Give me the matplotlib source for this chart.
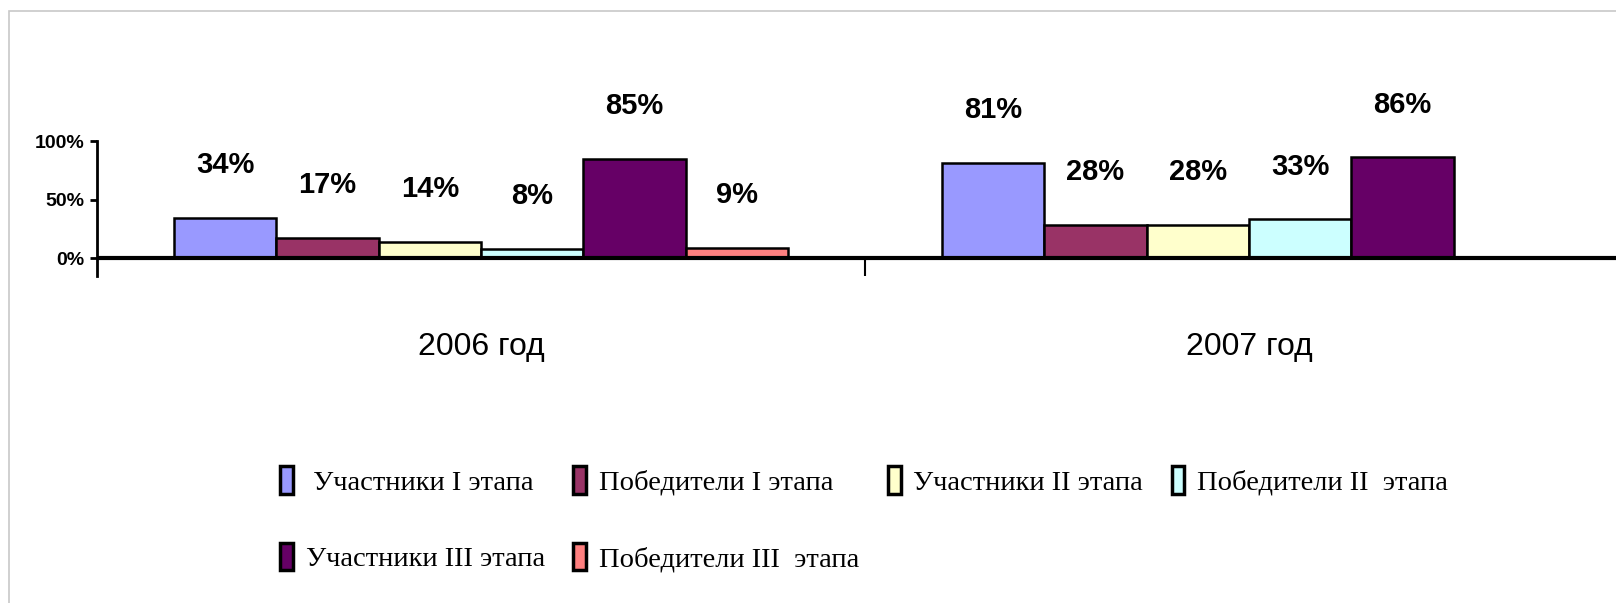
import numpy as np
import matplotlib
matplotlib.use("Agg")
import matplotlib.pyplot as plt
from matplotlib.patches import Rectangle, Patch

years = ["2006 год", "2007 год"]
series = [
    " Участники I этапа",
    "Победители I этапа",
    "Участники II этапа",
    "Победители II  этапа",
    "Участники III этапа",
    "Победители III  этапа",
]
values = [
    [34, 81],
    [17, 28],
    [14, 28],
    [8, 33],
    [85, 86],
    [9, np.nan],
]
colors = ["#9999FF", "#993366", "#FFFFCC", "#CCFFFF", "#660066", "#FF8080"]
yticks = [0, 50, 100]

num_font = ["Liberation Sans Narrow", "Liberation Sans", "DejaVu Sans"]
leg_font = ["Liberation Serif", "DejaVu Serif"]

fig = plt.figure(figsize=(16.16, 6.03), dpi=100)
ax = fig.add_axes([97 / 1616, (603 - 276) / 603, 1 - 97 / 1616, 135 / 603])

x = np.arange(len(years))
width = 0.8 / len(series)
handles = []
for i, (name, vals, c) in enumerate(zip(series, values, colors)):
    pos = x - 0.4 + width * (i + 0.5)
    v = np.array(vals, dtype=float) / 100
    ax.bar(pos, v, width, color=c, edgecolor="black", linewidth=1.8, zorder=3)
    for p, val in zip(pos, vals):
        if np.isnan(val):
            continue
        ax.annotate(f"{val:.0f}%", (p, val / 100), xytext=(0, 28),
                    textcoords="offset points", ha="center", va="bottom",
                    fontsize=21, fontweight="bold", family=num_font)
    handles.append(Patch(facecolor=c, edgecolor="black", linewidth=2.5))

ax.set_xlim(-0.5, 0.5 + 751 / 768)
ax.set_ylim(-0.153, 1.0)
ax.axhline(0, color="black", lw=3, zorder=4)

for s in ["top", "right", "bottom"]:
    ax.spines[s].set_visible(False)
ax.spines["left"].set_linewidth(2)

ax.set_yticks([t / 100 for t in yticks])
ax.set_yticklabels([f"{t}%" for t in yticks], fontsize=14, fontweight="bold",
                   family=num_font)
ax.tick_params(axis="y", length=5, width=2, pad=4)

ax.set_xticks(x)
ax.set_xticklabels(years, fontsize=23, family=num_font)
ax.tick_params(axis="x", which="major", length=0, pad=40)
ax.set_xticks([0.5], minor=True)
ax.tick_params(axis="x", which="minor", length=14, width=1.5, direction="in")

order = [0, 4, 1, 5, 2, 3]
fig.legend([handles[i] for i in order], [series[i] for i in order],
           loc="upper left", bbox_to_anchor=(266 / 1616, 0.25), ncol=4,
           frameon=False, prop={"family": leg_font, "size": 20.5},
           handlelength=0.45, handleheight=1.1, handletextpad=0.45,
           labelspacing=1.65, columnspacing=1.0, borderpad=0)

fig.patches.append(Rectangle((9 / 1616, -0.1), 1.2, (603 - 11) / 603 + 0.1,
                             transform=fig.transFigure, fill=False,
                             edgecolor="#C8C8C8", linewidth=1.2))

fig.savefig("out.png", dpi=100)
